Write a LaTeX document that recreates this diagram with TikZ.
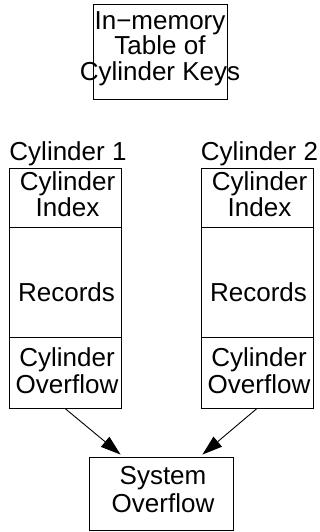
\documentclass[tikz,border=0pt]{standalone}
\usepackage{fontspec}
\setmainfont{Liberation Sans}
\usetikzlibrary{arrows.meta,calc}
\tikzset{
  box/.style={draw=black, line width=0.9pt, inner sep=0pt, rectangle},
  txt/.style={inner sep=0pt, align=center, font=\fontsize{26pt}{26.5pt}\selectfont},
  arr/.style={draw=black, line width=0.9pt, -{Triangle[length=20pt,width=13pt]}}
}
\begin{document}
\begin{tikzpicture}[x=1pt,y=-1pt]
\useasboundingbox (0,0) rectangle (320,532);
% top table
\node[box, minimum width=134pt, minimum height=95pt] (tbl) at (160,51.5) {};
\node[txt, font=\fontsize{26pt}{25.5pt}\selectfont] (tbltext) at (160,48.5) {In−memory\\Table of\\Cylinder Keys};
% cylinder 1
\node[txt, anchor=base] (c1lab) at (68,160) {Cylinder 1};
\node[box, minimum width=112pt, minimum height=59pt] (idx1) at (65,197.5) {};
\node[box, minimum width=112pt, minimum height=110pt] (rec1) at (65,282) {};
\node[box, minimum width=112pt, minimum height=71pt] (ov1) at (65,372.5) {};
\node[txt] (idx1t) at (67.5,194) {Cylinder\\Index};
\node[txt] (rec1t) at (66.5,292.5) {Records};
\node[txt] (ov1t) at (67,370.5) {Cylinder\\Overflow};
% cylinder 2
\node[txt, anchor=base] (c2lab) at (259.5,160) {Cylinder 2};
\node[box, minimum width=112pt, minimum height=59pt] (idx2) at (257,197.5) {};
\node[box, minimum width=112pt, minimum height=110pt] (rec2) at (257,282) {};
\node[box, minimum width=112pt, minimum height=71pt] (ov2) at (257,372.5) {};
\node[txt] (idx2t) at (259.5,194) {Cylinder\\Index};
\node[txt] (rec2t) at (258.5,292.5) {Records};
\node[txt] (ov2t) at (259,370.5) {Cylinder\\Overflow};
% system overflow
\node[box, minimum width=144pt, minimum height=73pt] (sys) at (161,493.5) {};
\node[txt, font=\fontsize{26pt}{28pt}\selectfont] (syst) at (163,489.5) {System\\Overflow};
% arrows
\draw[arr] (ov1.south) -- ($(sys.north west)+(32,-2)$);
\draw[arr] (ov2.south) -- ($(sys.north east)+(-31,-2)$);
\end{tikzpicture}
\end{document}
